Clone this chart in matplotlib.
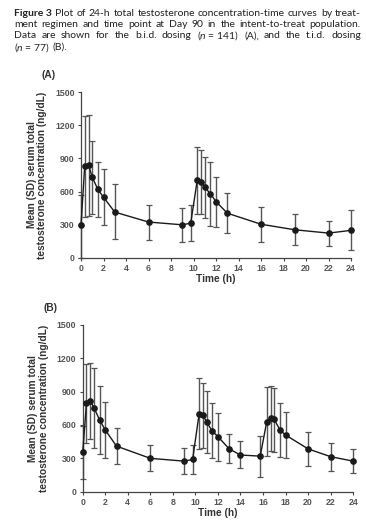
import numpy as np
import matplotlib.pyplot as plt

CAP_FONT = "Lato"

plt.rcParams["font.family"] = ["Liberation Sans", "DejaVu Sans"]
plt.rcParams["mathtext.fontset"] = "custom"
plt.rcParams["mathtext.it"] = CAP_FONT + ":italic"
plt.rcParams["mathtext.rm"] = CAP_FONT

# panel A: b.i.d. dosing
t_a = [0, 0.33, 0.67, 1, 1.5, 2, 3, 6, 9, 9.75, 10.33, 10.67, 11, 11.5, 12, 13, 16, 19, 22, 24]
mean_a = [295, 830, 840, 730, 620, 550, 415, 325, 300, 315, 705, 690, 640, 580, 510, 405, 305, 255, 225, 250]
low_a = [0, 375, 380, 395, 370, 295, 170, 165, 145, 150, 400, 395, 365, 290, 280, 225, 145, 115, 110, 70]
high_a = [570, 1280, 1295, 1060, 865, 805, 665, 480, 455, 475, 1005, 980, 915, 870, 735, 590, 465, 395, 335, 430]

# panel B: t.i.d. dosing
t_b = [0, 0.33, 0.67, 1, 1.5, 2, 3, 6, 9, 9.75, 10.33, 10.67, 11, 11.5, 12, 13, 14,
       15.75, 16.33, 16.67, 17, 17.5, 18, 20, 22, 24]
mean_b = [355, 795, 815, 755, 645, 555, 410, 300, 275, 290, 700, 690, 625, 545, 495, 385, 330,
          320, 630, 660, 650, 555, 510, 385, 315, 275]
low_b = [110, 435, 470, 395, 335, 305, 250, 185, 160, 155, 380, 390, 350, 300, 275, 255, 210,
         130, 325, 365, 355, 310, 305, 230, 190, 170]
high_b = [590, 1150, 1160, 1115, 955, 805, 570, 420, 390, 420, 1020, 980, 905, 795, 710, 515, 455,
          505, 940, 950, 935, 800, 720, 540, 440, 385]

xticks = list(range(0, 25, 2))
yticks = [0, 300, 600, 900, 1200, 1500]

fig = plt.figure(figsize=(3.66, 5.25), dpi=100)

ax_a = fig.add_axes([0.2213, 0.5086, 0.738, 0.316])
ax_b = fig.add_axes([0.226, 0.0634, 0.739, 0.3177])

for ax, t, m, lo, hi, tag in [(ax_a, t_a, mean_a, low_a, high_a, "(A)"),
                              (ax_b, t_b, mean_b, low_b, high_b, "(B)")]:
    m = np.array(m)
    yerr = [m - np.array(lo), np.array(hi) - m]
    eb = ax.errorbar(t, m, yerr=yerr, fmt="none", ecolor="#555555", elinewidth=1.0,
                     capsize=2.2, capthick=0.9, clip_on=False, zorder=2)
    for art in eb.lines[1] + eb.lines[2]:
        art.set_clip_on(False)
    ax.plot(t, m, color="#1a1a1a", lw=1.0, marker="o", ms=3.8, clip_on=False, zorder=3)
    ax.set_xlim(0, 24)
    ax.set_ylim(0, 1500)
    ax.set_xticks(xticks)
    ax.set_yticks(yticks)
    for s in ["top", "right"]:
        ax.spines[s].set_visible(False)
    for s in ["left", "bottom"]:
        ax.spines[s].set_color("#444444")
        ax.spines[s].set_linewidth(0.9)
    ax.tick_params(direction="out", length=2.5, width=0.8, color="#444444",
                   labelsize=6.3, labelcolor="#555555", pad=2)
    for lab in ax.get_xticklabels() + ax.get_yticklabels():
        lab.set_fontweight("bold")
    ax.set_xlabel("Time (h)", fontsize=7.3, fontweight="bold", color="#333333", labelpad=0.5)
    ax.set_ylabel("Mean (SD) serum total\ntestosterone concentration (ng/dL)", fontsize=7.3,
                  fontweight="bold", color="#333333", labelpad=6, linespacing=1.05)
    ax.text(-0.12, 1.07, tag, transform=ax.transAxes, fontsize=7.3, fontweight="bold",
            color="#333333", ha="center", va="bottom")

# caption, justified line by line
cap_lines = [
    ["Plot", "of", "24-h", "total", "testosterone", "concentration-time", "curves", "by", "treat-"],
    ["ment", "regimen", "and", "time", "point", "at", "Day", "90", "in", "the", "intent-to-treat", "population."],
    ["Data", "are", "shown", "for", "the", "b.i.d.", "dosing", r"($\mathit{n}$ = 141)", "(A),", "and", "the",
     "t.i.d.", "dosing"],
    [r"($\mathit{n}$ = 77)", "(B)."],
]
justify = [True, True, True, False]
x0, x1 = 14 / 366, 361 / 366
ys = [1 - 13 / 525, 1 - 24.5 / 525, 1 - 36 / 525, 1 - 47.5 / 525]
renderer = fig.canvas.get_renderer()
figw = fig.bbox.width


def measure(s, size, **kw):
    tmp = fig.text(0, 0, s, fontsize=size, family=[CAP_FONT, "DejaVu Sans"], **kw)
    w = tmp.get_window_extent(renderer).width / figw
    tmp.remove()
    return w


# fit the font size so the fullest line with normal spaces fits the width
base = 7.5
natural = []
for i, words in enumerate(cap_lines[:3]):
    s = " ".join(words)
    w = measure(s, base)
    if i == 0:
        w += measure("Figure 3 ", base, fontweight="bold")
    natural.append(w)
size = base * (x1 - x0) / max(natural) * 0.985
cap_kw = dict(fontsize=size, family=[CAP_FONT, "DejaVu Sans"], color="#222222", va="center")
sp = measure("a a", size) - 2 * measure("a", size)

for i, (words, just, y) in enumerate(zip(cap_lines, justify, ys)):
    items = []
    if i == 0:
        items.append(fig.text(x0, y, "Figure 3", fontweight="bold", **cap_kw))
    for w in words:
        items.append(fig.text(x0, y, w, **cap_kw))
    widths = [it.get_window_extent(renderer).width / figw for it in items]
    gap = (x1 - x0 - sum(widths)) / (len(items) - 1) if just else sp
    x = x0
    for it, w in zip(items, widths):
        it.set_x(x)
        x += w + gap

fig.savefig("out.png", dpi=100)
